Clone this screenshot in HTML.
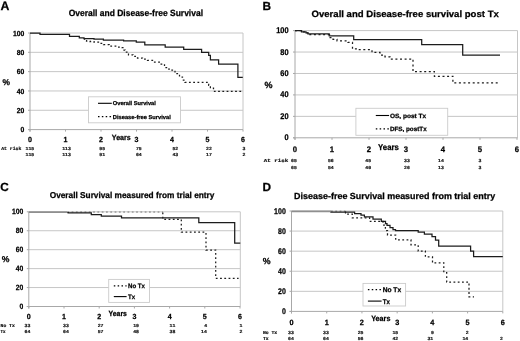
<!DOCTYPE html>
<html><head><meta charset="utf-8"><style>
html,body{margin:0;padding:0;background:#fff;width:520px;height:341px;overflow:hidden}
svg{display:block;will-change:transform;text-rendering:geometricPrecision}
</style></head><body>
<svg width="520" height="341" viewBox="0 0 520 341">
<rect width="520" height="341" fill="#fff"/>
<text x="0.6" y="9.8" font-family="&quot;Liberation Sans&quot;, sans-serif" font-size="12.3" font-weight="bold" fill="#000" stroke="#000" stroke-width="0.25">A</text>
<text x="68.7" y="16.4" font-family="&quot;Liberation Sans&quot;, sans-serif" font-size="9.0" font-weight="bold" textLength="134.3" lengthAdjust="spacingAndGlyphs" fill="#000" stroke="#000" stroke-width="0.25">Overall and Disease-free Survival</text>
<line x1="30" y1="33.0" x2="243" y2="33.0" stroke="#c6c6c6" stroke-width="1"/>
<line x1="30" y1="52.32" x2="243" y2="52.32" stroke="#c6c6c6" stroke-width="1"/>
<line x1="30" y1="71.64" x2="243" y2="71.64" stroke="#c6c6c6" stroke-width="1"/>
<line x1="30" y1="90.96000000000001" x2="243" y2="90.96000000000001" stroke="#c6c6c6" stroke-width="1"/>
<line x1="30" y1="110.28" x2="243" y2="110.28" stroke="#c6c6c6" stroke-width="1"/>
<line x1="243" y1="33" x2="243" y2="129.6" stroke="#c6c6c6" stroke-width="1"/>
<line x1="30" y1="33" x2="30" y2="131.6" stroke="#a8a8a8" stroke-width="1"/>
<line x1="28" y1="129.6" x2="243" y2="129.6" stroke="#a8a8a8" stroke-width="1"/>
<line x1="28" y1="33.0" x2="30" y2="33.0" stroke="#a8a8a8" stroke-width="1"/>
<line x1="28" y1="52.32" x2="30" y2="52.32" stroke="#a8a8a8" stroke-width="1"/>
<line x1="28" y1="71.64" x2="30" y2="71.64" stroke="#a8a8a8" stroke-width="1"/>
<line x1="28" y1="90.96000000000001" x2="30" y2="90.96000000000001" stroke="#a8a8a8" stroke-width="1"/>
<line x1="28" y1="110.28" x2="30" y2="110.28" stroke="#a8a8a8" stroke-width="1"/>
<line x1="28" y1="129.6" x2="30" y2="129.6" stroke="#a8a8a8" stroke-width="1"/>
<line x1="30.0" y1="129.6" x2="30.0" y2="131.6" stroke="#a8a8a8" stroke-width="1"/>
<line x1="65.5" y1="129.6" x2="65.5" y2="131.6" stroke="#a8a8a8" stroke-width="1"/>
<line x1="101.0" y1="129.6" x2="101.0" y2="131.6" stroke="#a8a8a8" stroke-width="1"/>
<line x1="136.5" y1="129.6" x2="136.5" y2="131.6" stroke="#a8a8a8" stroke-width="1"/>
<line x1="172.0" y1="129.6" x2="172.0" y2="131.6" stroke="#a8a8a8" stroke-width="1"/>
<line x1="207.5" y1="129.6" x2="207.5" y2="131.6" stroke="#a8a8a8" stroke-width="1"/>
<line x1="243.0" y1="129.6" x2="243.0" y2="131.6" stroke="#a8a8a8" stroke-width="1"/>
<text x="24.3" y="35.6" font-family="&quot;Liberation Sans&quot;, sans-serif" font-size="7.3" font-weight="bold" text-anchor="end" textLength="11.34" lengthAdjust="spacingAndGlyphs" fill="#000" stroke="#000" stroke-width="0.25">100</text>
<text x="24.3" y="54.9" font-family="&quot;Liberation Sans&quot;, sans-serif" font-size="7.3" font-weight="bold" text-anchor="end" textLength="7.56" lengthAdjust="spacingAndGlyphs" fill="#000" stroke="#000" stroke-width="0.25">80</text>
<text x="24.3" y="74.2" font-family="&quot;Liberation Sans&quot;, sans-serif" font-size="7.3" font-weight="bold" text-anchor="end" textLength="7.56" lengthAdjust="spacingAndGlyphs" fill="#000" stroke="#000" stroke-width="0.25">60</text>
<text x="24.3" y="93.6" font-family="&quot;Liberation Sans&quot;, sans-serif" font-size="7.3" font-weight="bold" text-anchor="end" textLength="7.56" lengthAdjust="spacingAndGlyphs" fill="#000" stroke="#000" stroke-width="0.25">40</text>
<text x="24.3" y="112.9" font-family="&quot;Liberation Sans&quot;, sans-serif" font-size="7.3" font-weight="bold" text-anchor="end" textLength="7.56" lengthAdjust="spacingAndGlyphs" fill="#000" stroke="#000" stroke-width="0.25">20</text>
<text x="24.3" y="132.2" font-family="&quot;Liberation Sans&quot;, sans-serif" font-size="7.3" font-weight="bold" text-anchor="end" textLength="3.78" lengthAdjust="spacingAndGlyphs" fill="#000" stroke="#000" stroke-width="0.25">0</text>
<text x="30.0" y="141.9" font-family="&quot;Liberation Sans&quot;, sans-serif" font-size="7.3999999999999995" font-weight="bold" text-anchor="middle" textLength="3.95" lengthAdjust="spacingAndGlyphs" fill="#000" stroke="#000" stroke-width="0.25">0</text>
<text x="65.5" y="141.9" font-family="&quot;Liberation Sans&quot;, sans-serif" font-size="7.3999999999999995" font-weight="bold" text-anchor="middle" textLength="3.95" lengthAdjust="spacingAndGlyphs" fill="#000" stroke="#000" stroke-width="0.25">1</text>
<text x="101.0" y="141.9" font-family="&quot;Liberation Sans&quot;, sans-serif" font-size="7.3999999999999995" font-weight="bold" text-anchor="middle" textLength="3.95" lengthAdjust="spacingAndGlyphs" fill="#000" stroke="#000" stroke-width="0.25">2</text>
<text x="136.5" y="141.9" font-family="&quot;Liberation Sans&quot;, sans-serif" font-size="7.3999999999999995" font-weight="bold" text-anchor="middle" textLength="3.95" lengthAdjust="spacingAndGlyphs" fill="#000" stroke="#000" stroke-width="0.25">3</text>
<text x="172.0" y="141.9" font-family="&quot;Liberation Sans&quot;, sans-serif" font-size="7.3999999999999995" font-weight="bold" text-anchor="middle" textLength="3.95" lengthAdjust="spacingAndGlyphs" fill="#000" stroke="#000" stroke-width="0.25">4</text>
<text x="207.5" y="141.9" font-family="&quot;Liberation Sans&quot;, sans-serif" font-size="7.3999999999999995" font-weight="bold" text-anchor="middle" textLength="3.95" lengthAdjust="spacingAndGlyphs" fill="#000" stroke="#000" stroke-width="0.25">5</text>
<text x="243.0" y="141.9" font-family="&quot;Liberation Sans&quot;, sans-serif" font-size="7.3999999999999995" font-weight="bold" text-anchor="middle" textLength="3.95" lengthAdjust="spacingAndGlyphs" fill="#000" stroke="#000" stroke-width="0.25">6</text>
<text x="2.6" y="84.5" font-family="&quot;Liberation Sans&quot;, sans-serif" font-size="8.4" font-weight="bold" fill="#000" stroke="#000" stroke-width="0.25">%</text>
<text x="111.8" y="139.8" font-family="&quot;Liberation Sans&quot;, sans-serif" font-size="7.6" font-weight="bold" textLength="19" lengthAdjust="spacingAndGlyphs" fill="#000" stroke="#000" stroke-width="0.25">Years</text>
<path d="M30.0,33.0 L40.0,33.0 L40.0,34.3 L69.5,34.3 L69.5,36.3 L79.3,36.3 L79.3,37.8 L84.0,37.8 L84.0,38.7 L94.0,38.7 L94.0,39.2 L103.4,39.2 L103.4,40.2 L123.6,40.2 L123.6,40.8 L136.3,40.8 L136.3,42.2 L144.8,42.2 L144.8,44.8 L165.2,44.8 L165.2,47.1 L183.7,47.1 L183.7,49.4 L201.6,49.4 L201.6,52.3 L208.7,52.3 L208.7,55.4 L210.4,55.4 L210.4,59.9 L218.6,59.9 L218.6,64.2 L237.9,64.2 L237.9,77.4 L242.8,77.4" fill="none" stroke="#1c1c1c" stroke-width="1.25"/>
<path d="M84.0,38.5 L84.5,38.5 L84.5,40.7 L85.0,40.7 L86.5,40.7 L86.5,41.2 L88.0,41.2 L90.0,41.2 L90.0,41.6 L92.0,41.6 L94.0,41.6 L94.0,42.2 L96.0,42.2 L98.5,42.2 L98.5,43.3 L101.0,43.3 L103.5,43.3 L103.5,44.6 L106.0,44.6 L109.3,44.6 L109.3,46.2 L112.6,46.2 L116.7,46.2 L116.7,47.0 L120.7,47.0 L122.1,47.0 L122.1,47.5 L123.5,47.5 L124.0,47.5 L124.0,50.0 L124.5,50.0 L125.2,50.0 L125.2,52.0 L126.0,52.0 L128.5,52.0 L128.5,54.8 L131.0,54.8 L133.0,54.8 L133.0,56.3 L135.0,56.3 L137.5,56.3 L137.5,58.0 L140.0,58.0 L142.5,58.0 L142.5,59.2 L145.0,59.2 L147.5,59.2 L147.5,60.4 L150.0,60.4 L153.5,60.4 L153.5,62.1 L157.0,62.1 L160.0,62.1 L160.0,64.0 L163.0,64.0 L164.5,64.0 L164.5,67.6 L166.0,67.6 L169.0,67.6 L169.0,70.2 L172.0,70.2 L175.0,70.2 L175.0,73.7 L178.0,73.7 L179.5,73.7 L179.5,77.0 L181.0,77.0 L182.5,77.0 L182.5,80.0 L184.0,80.0 L185.0,80.0 L185.0,82.3 L186.0,82.3 L208.7,82.3 L208.7,85.4 L210.4,85.4 L210.4,88.2 L213.5,88.2 L213.5,91.4 L242.8,91.4" fill="none" stroke="#1c1c1c" stroke-width="1.25" stroke-dasharray="1.8,2.45"/>
<rect x="88.5" y="96.8" width="92" height="26" fill="#fff" stroke="#cbcbcb" stroke-width="0.9"/>
<path d="M98,103.3 L111.8,103.3" stroke="#000" stroke-width="1.1"/>
<text x="112.8" y="105.4" font-family="&quot;Liberation Sans&quot;, sans-serif" font-size="5.7" font-weight="bold" textLength="43" lengthAdjust="spacingAndGlyphs" fill="#000" stroke="#000" stroke-width="0.25">Overall Survival</text>
<path d="M98,116.7 L111.8,116.7" stroke="#000" stroke-width="1.2" stroke-dasharray="1.5,2.35"/>
<text x="112.8" y="118.8" font-family="&quot;Liberation Sans&quot;, sans-serif" font-size="5.7" font-weight="bold" textLength="58" lengthAdjust="spacingAndGlyphs" fill="#000" stroke="#000" stroke-width="0.25">Disease-free Survival</text>
<text x="1.2" y="150.2" font-family="&quot;Liberation Mono&quot;, monospace" font-size="4.6" font-weight="bold" textLength="20.2" lengthAdjust="spacingAndGlyphs" fill="#111" stroke="#111" stroke-width="0.18">At risk</text>
<text x="25.5" y="150.2" font-family="&quot;Liberation Mono&quot;, monospace" font-size="4.6" font-weight="bold" textLength="8.7" lengthAdjust="spacingAndGlyphs" fill="#111" stroke="#111" stroke-width="0.18">115</text>
<text x="62.199999999999996" y="150.2" font-family="&quot;Liberation Mono&quot;, monospace" font-size="4.6" font-weight="bold" textLength="8.7" lengthAdjust="spacingAndGlyphs" fill="#111" stroke="#111" stroke-width="0.18">113</text>
<text x="99.3" y="150.2" font-family="&quot;Liberation Mono&quot;, monospace" font-size="4.6" font-weight="bold" textLength="5.8" lengthAdjust="spacingAndGlyphs" fill="#111" stroke="#111" stroke-width="0.18">95</text>
<text x="135.9" y="150.2" font-family="&quot;Liberation Mono&quot;, monospace" font-size="4.6" font-weight="bold" textLength="5.8" lengthAdjust="spacingAndGlyphs" fill="#111" stroke="#111" stroke-width="0.18">75</text>
<text x="172.4" y="150.2" font-family="&quot;Liberation Mono&quot;, monospace" font-size="4.6" font-weight="bold" textLength="5.8" lengthAdjust="spacingAndGlyphs" fill="#111" stroke="#111" stroke-width="0.18">52</text>
<text x="206.10000000000002" y="150.2" font-family="&quot;Liberation Mono&quot;, monospace" font-size="4.6" font-weight="bold" textLength="5.8" lengthAdjust="spacingAndGlyphs" fill="#111" stroke="#111" stroke-width="0.18">22</text>
<text x="242.60000000000002" y="150.2" font-family="&quot;Liberation Mono&quot;, monospace" font-size="4.6" font-weight="bold" textLength="2.9" lengthAdjust="spacingAndGlyphs" fill="#111" stroke="#111" stroke-width="0.18">3</text>
<text x="25.5" y="156.3" font-family="&quot;Liberation Mono&quot;, monospace" font-size="4.6" font-weight="bold" textLength="8.7" lengthAdjust="spacingAndGlyphs" fill="#111" stroke="#111" stroke-width="0.18">115</text>
<text x="62.199999999999996" y="156.3" font-family="&quot;Liberation Mono&quot;, monospace" font-size="4.6" font-weight="bold" textLength="8.7" lengthAdjust="spacingAndGlyphs" fill="#111" stroke="#111" stroke-width="0.18">113</text>
<text x="99.3" y="156.3" font-family="&quot;Liberation Mono&quot;, monospace" font-size="4.6" font-weight="bold" textLength="5.8" lengthAdjust="spacingAndGlyphs" fill="#111" stroke="#111" stroke-width="0.18">91</text>
<text x="135.9" y="156.3" font-family="&quot;Liberation Mono&quot;, monospace" font-size="4.6" font-weight="bold" textLength="5.8" lengthAdjust="spacingAndGlyphs" fill="#111" stroke="#111" stroke-width="0.18">64</text>
<text x="172.4" y="156.3" font-family="&quot;Liberation Mono&quot;, monospace" font-size="4.6" font-weight="bold" textLength="5.8" lengthAdjust="spacingAndGlyphs" fill="#111" stroke="#111" stroke-width="0.18">43</text>
<text x="206.10000000000002" y="156.3" font-family="&quot;Liberation Mono&quot;, monospace" font-size="4.6" font-weight="bold" textLength="5.8" lengthAdjust="spacingAndGlyphs" fill="#111" stroke="#111" stroke-width="0.18">17</text>
<text x="242.60000000000002" y="156.3" font-family="&quot;Liberation Mono&quot;, monospace" font-size="4.6" font-weight="bold" textLength="2.9" lengthAdjust="spacingAndGlyphs" fill="#111" stroke="#111" stroke-width="0.18">2</text>
<text x="262.6" y="9.8" font-family="&quot;Liberation Sans&quot;, sans-serif" font-size="11.8" font-weight="bold" fill="#000" stroke="#000" stroke-width="0.25">B</text>
<text x="311.5" y="16.9" font-family="&quot;Liberation Sans&quot;, sans-serif" font-size="9.2" font-weight="bold" textLength="187.3" lengthAdjust="spacingAndGlyphs" fill="#000" stroke="#000" stroke-width="0.25">Overall and Disease-free survival post Tx</text>
<line x1="295" y1="30.6" x2="517.5" y2="30.6" stroke="#c6c6c6" stroke-width="1"/>
<line x1="295" y1="52.040000000000006" x2="517.5" y2="52.040000000000006" stroke="#c6c6c6" stroke-width="1"/>
<line x1="295" y1="73.48000000000002" x2="517.5" y2="73.48000000000002" stroke="#c6c6c6" stroke-width="1"/>
<line x1="295" y1="94.92000000000002" x2="517.5" y2="94.92000000000002" stroke="#c6c6c6" stroke-width="1"/>
<line x1="295" y1="116.36000000000001" x2="517.5" y2="116.36000000000001" stroke="#c6c6c6" stroke-width="1"/>
<line x1="517.5" y1="30.6" x2="517.5" y2="137.8" stroke="#c6c6c6" stroke-width="1"/>
<line x1="295" y1="30.6" x2="295" y2="139.8" stroke="#a8a8a8" stroke-width="1"/>
<line x1="293" y1="137.8" x2="517.5" y2="137.8" stroke="#a8a8a8" stroke-width="1"/>
<line x1="293" y1="30.6" x2="295" y2="30.6" stroke="#a8a8a8" stroke-width="1"/>
<line x1="293" y1="52.040000000000006" x2="295" y2="52.040000000000006" stroke="#a8a8a8" stroke-width="1"/>
<line x1="293" y1="73.48000000000002" x2="295" y2="73.48000000000002" stroke="#a8a8a8" stroke-width="1"/>
<line x1="293" y1="94.92000000000002" x2="295" y2="94.92000000000002" stroke="#a8a8a8" stroke-width="1"/>
<line x1="293" y1="116.36000000000001" x2="295" y2="116.36000000000001" stroke="#a8a8a8" stroke-width="1"/>
<line x1="293" y1="137.8" x2="295" y2="137.8" stroke="#a8a8a8" stroke-width="1"/>
<line x1="295.0" y1="137.8" x2="295.0" y2="139.8" stroke="#a8a8a8" stroke-width="1"/>
<line x1="332.0" y1="137.8" x2="332.0" y2="139.8" stroke="#a8a8a8" stroke-width="1"/>
<line x1="369.0" y1="137.8" x2="369.0" y2="139.8" stroke="#a8a8a8" stroke-width="1"/>
<line x1="406.0" y1="137.8" x2="406.0" y2="139.8" stroke="#a8a8a8" stroke-width="1"/>
<line x1="443.0" y1="137.8" x2="443.0" y2="139.8" stroke="#a8a8a8" stroke-width="1"/>
<line x1="480.0" y1="137.8" x2="480.0" y2="139.8" stroke="#a8a8a8" stroke-width="1"/>
<line x1="517.0" y1="137.8" x2="517.0" y2="139.8" stroke="#a8a8a8" stroke-width="1"/>
<text x="288.6" y="33.1" font-family="&quot;Liberation Sans&quot;, sans-serif" font-size="8.3" font-weight="bold" text-anchor="end" textLength="12.34" lengthAdjust="spacingAndGlyphs" fill="#000" stroke="#000" stroke-width="0.25">100</text>
<text x="288.6" y="54.5" font-family="&quot;Liberation Sans&quot;, sans-serif" font-size="8.3" font-weight="bold" text-anchor="end" textLength="8.23" lengthAdjust="spacingAndGlyphs" fill="#000" stroke="#000" stroke-width="0.25">80</text>
<text x="288.6" y="76.0" font-family="&quot;Liberation Sans&quot;, sans-serif" font-size="8.3" font-weight="bold" text-anchor="end" textLength="8.23" lengthAdjust="spacingAndGlyphs" fill="#000" stroke="#000" stroke-width="0.25">60</text>
<text x="288.6" y="97.4" font-family="&quot;Liberation Sans&quot;, sans-serif" font-size="8.3" font-weight="bold" text-anchor="end" textLength="8.23" lengthAdjust="spacingAndGlyphs" fill="#000" stroke="#000" stroke-width="0.25">40</text>
<text x="288.6" y="118.9" font-family="&quot;Liberation Sans&quot;, sans-serif" font-size="8.3" font-weight="bold" text-anchor="end" textLength="8.23" lengthAdjust="spacingAndGlyphs" fill="#000" stroke="#000" stroke-width="0.25">20</text>
<text x="288.6" y="140.3" font-family="&quot;Liberation Sans&quot;, sans-serif" font-size="8.3" font-weight="bold" text-anchor="end" textLength="4.11" lengthAdjust="spacingAndGlyphs" fill="#000" stroke="#000" stroke-width="0.25">0</text>
<text x="295.0" y="151.9" font-family="&quot;Liberation Sans&quot;, sans-serif" font-size="8.0" font-weight="bold" text-anchor="middle" textLength="4.28" lengthAdjust="spacingAndGlyphs" fill="#000" stroke="#000" stroke-width="0.25">0</text>
<text x="332.0" y="151.9" font-family="&quot;Liberation Sans&quot;, sans-serif" font-size="8.0" font-weight="bold" text-anchor="middle" textLength="4.28" lengthAdjust="spacingAndGlyphs" fill="#000" stroke="#000" stroke-width="0.25">1</text>
<text x="369.0" y="151.9" font-family="&quot;Liberation Sans&quot;, sans-serif" font-size="8.0" font-weight="bold" text-anchor="middle" textLength="4.28" lengthAdjust="spacingAndGlyphs" fill="#000" stroke="#000" stroke-width="0.25">2</text>
<text x="406.0" y="151.9" font-family="&quot;Liberation Sans&quot;, sans-serif" font-size="8.0" font-weight="bold" text-anchor="middle" textLength="4.28" lengthAdjust="spacingAndGlyphs" fill="#000" stroke="#000" stroke-width="0.25">3</text>
<text x="443.0" y="151.9" font-family="&quot;Liberation Sans&quot;, sans-serif" font-size="8.0" font-weight="bold" text-anchor="middle" textLength="4.28" lengthAdjust="spacingAndGlyphs" fill="#000" stroke="#000" stroke-width="0.25">4</text>
<text x="480.0" y="151.9" font-family="&quot;Liberation Sans&quot;, sans-serif" font-size="8.0" font-weight="bold" text-anchor="middle" textLength="4.28" lengthAdjust="spacingAndGlyphs" fill="#000" stroke="#000" stroke-width="0.25">5</text>
<text x="517.0" y="151.9" font-family="&quot;Liberation Sans&quot;, sans-serif" font-size="8.0" font-weight="bold" text-anchor="middle" textLength="4.28" lengthAdjust="spacingAndGlyphs" fill="#000" stroke="#000" stroke-width="0.25">6</text>
<text x="264.6" y="87.6" font-family="&quot;Liberation Sans&quot;, sans-serif" font-size="9" font-weight="bold" fill="#000" stroke="#000" stroke-width="0.25">%</text>
<text x="378.1" y="149.9" font-family="&quot;Liberation Sans&quot;, sans-serif" font-size="8.4" font-weight="bold" textLength="20.7" lengthAdjust="spacingAndGlyphs" fill="#000" stroke="#000" stroke-width="0.25">Years</text>
<path d="M295.0,30.6 L301.5,30.6 L301.5,31.8 L306.0,31.8 L306.0,32.9 L307.9,32.9 L307.9,33.9 L329.2,33.9 L329.2,35.8 L353.7,35.8 L353.7,39.5 L421.7,39.5 L421.7,44.7 L462.7,44.7 L462.7,55.1 L500.0,55.1" fill="none" stroke="#1c1c1c" stroke-width="1.25"/>
<path d="M295.0,30.6 L301.5,30.6 L301.5,31.8 L306.0,31.8 L306.0,32.9 L307.9,32.9 L307.9,34.7 L329.5,34.7 L329.5,37.5 L333.0,37.5 L333.0,39.3 L337.0,39.3 L337.0,40.8 L348.0,40.8 L348.0,42.4 L352.5,42.4 L352.5,48.9 L357.0,48.9 L357.0,49.7 L372.0,49.7 L372.0,52.4 L380.0,52.4 L380.0,55.0 L385.0,55.0 L385.0,56.8 L390.0,56.8 L390.0,59.0 L413.0,59.0 L413.0,71.6 L434.4,71.6 L434.4,76.3 L452.9,76.3 L452.9,82.9 L500.0,82.9" fill="none" stroke="#1c1c1c" stroke-width="1.25" stroke-dasharray="2,2.6"/>
<rect x="355.9" y="108.3" width="91.8" height="27" fill="#fff" stroke="#cbcbcb" stroke-width="0.9"/>
<path d="M375.8,115.5 L389.1,115.5" stroke="#000" stroke-width="1.1"/>
<text x="389.9" y="117.7" font-family="&quot;Liberation Sans&quot;, sans-serif" font-size="6.2" font-weight="bold" textLength="36.3" lengthAdjust="spacingAndGlyphs" fill="#000" stroke="#000" stroke-width="0.25">OS, post Tx</text>
<path d="M375.8,128.8 L389.1,128.8" stroke="#000" stroke-width="1.2" stroke-dasharray="1.5,2.35"/>
<text x="389.9" y="131.0" font-family="&quot;Liberation Sans&quot;, sans-serif" font-size="6.2" font-weight="bold" textLength="36.8" lengthAdjust="spacingAndGlyphs" fill="#000" stroke="#000" stroke-width="0.25">DFS, postTx</text>
<text x="263.8" y="162.1" font-family="&quot;Liberation Mono&quot;, monospace" font-size="4.6" font-weight="bold" textLength="24.6" lengthAdjust="spacingAndGlyphs" fill="#111" stroke="#111" stroke-width="0.18">At risk</text>
<text x="291.0" y="162.1" font-family="&quot;Liberation Mono&quot;, monospace" font-size="4.6" font-weight="bold" textLength="5.8" lengthAdjust="spacingAndGlyphs" fill="#111" stroke="#111" stroke-width="0.18">65</text>
<text x="327.90000000000003" y="162.1" font-family="&quot;Liberation Mono&quot;, monospace" font-size="4.6" font-weight="bold" textLength="5.8" lengthAdjust="spacingAndGlyphs" fill="#111" stroke="#111" stroke-width="0.18">56</text>
<text x="365.3" y="162.1" font-family="&quot;Liberation Mono&quot;, monospace" font-size="4.6" font-weight="bold" textLength="5.8" lengthAdjust="spacingAndGlyphs" fill="#111" stroke="#111" stroke-width="0.18">45</text>
<text x="404.1" y="162.1" font-family="&quot;Liberation Mono&quot;, monospace" font-size="4.6" font-weight="bold" textLength="5.8" lengthAdjust="spacingAndGlyphs" fill="#111" stroke="#111" stroke-width="0.18">33</text>
<text x="438.0" y="162.1" font-family="&quot;Liberation Mono&quot;, monospace" font-size="4.6" font-weight="bold" textLength="5.8" lengthAdjust="spacingAndGlyphs" fill="#111" stroke="#111" stroke-width="0.18">14</text>
<text x="478.40000000000003" y="162.1" font-family="&quot;Liberation Mono&quot;, monospace" font-size="4.6" font-weight="bold" textLength="2.9" lengthAdjust="spacingAndGlyphs" fill="#111" stroke="#111" stroke-width="0.18">3</text>
<text x="291.0" y="169.0" font-family="&quot;Liberation Mono&quot;, monospace" font-size="4.6" font-weight="bold" textLength="5.8" lengthAdjust="spacingAndGlyphs" fill="#111" stroke="#111" stroke-width="0.18">65</text>
<text x="327.90000000000003" y="169.0" font-family="&quot;Liberation Mono&quot;, monospace" font-size="4.6" font-weight="bold" textLength="5.8" lengthAdjust="spacingAndGlyphs" fill="#111" stroke="#111" stroke-width="0.18">54</text>
<text x="365.3" y="169.0" font-family="&quot;Liberation Mono&quot;, monospace" font-size="4.6" font-weight="bold" textLength="5.8" lengthAdjust="spacingAndGlyphs" fill="#111" stroke="#111" stroke-width="0.18">40</text>
<text x="404.1" y="169.0" font-family="&quot;Liberation Mono&quot;, monospace" font-size="4.6" font-weight="bold" textLength="5.8" lengthAdjust="spacingAndGlyphs" fill="#111" stroke="#111" stroke-width="0.18">26</text>
<text x="438.0" y="169.0" font-family="&quot;Liberation Mono&quot;, monospace" font-size="4.6" font-weight="bold" textLength="5.8" lengthAdjust="spacingAndGlyphs" fill="#111" stroke="#111" stroke-width="0.18">13</text>
<text x="478.40000000000003" y="169.0" font-family="&quot;Liberation Mono&quot;, monospace" font-size="4.6" font-weight="bold" textLength="2.9" lengthAdjust="spacingAndGlyphs" fill="#111" stroke="#111" stroke-width="0.18">3</text>
<text x="0.2" y="191.1" font-family="&quot;Liberation Sans&quot;, sans-serif" font-size="11.8" font-weight="bold" fill="#000" stroke="#000" stroke-width="0.25">C</text>
<text x="49.7" y="198.4" font-family="&quot;Liberation Sans&quot;, sans-serif" font-size="8.6" font-weight="bold" textLength="164.7" lengthAdjust="spacingAndGlyphs" fill="#000" stroke="#000" stroke-width="0.25">Overall Survival measured from trial entry</text>
<line x1="28.8" y1="211.8" x2="240.3" y2="211.8" stroke="#c6c6c6" stroke-width="1"/>
<line x1="28.8" y1="230.74" x2="240.3" y2="230.74" stroke="#c6c6c6" stroke-width="1"/>
<line x1="28.8" y1="249.68" x2="240.3" y2="249.68" stroke="#c6c6c6" stroke-width="1"/>
<line x1="28.8" y1="268.62" x2="240.3" y2="268.62" stroke="#c6c6c6" stroke-width="1"/>
<line x1="28.8" y1="287.56" x2="240.3" y2="287.56" stroke="#c6c6c6" stroke-width="1"/>
<line x1="240.3" y1="211.8" x2="240.3" y2="306.5" stroke="#c6c6c6" stroke-width="1"/>
<line x1="28.8" y1="211.8" x2="28.8" y2="308.5" stroke="#a8a8a8" stroke-width="1"/>
<line x1="26.8" y1="306.5" x2="240.3" y2="306.5" stroke="#a8a8a8" stroke-width="1"/>
<line x1="26.8" y1="211.8" x2="28.8" y2="211.8" stroke="#a8a8a8" stroke-width="1"/>
<line x1="26.8" y1="230.74" x2="28.8" y2="230.74" stroke="#a8a8a8" stroke-width="1"/>
<line x1="26.8" y1="249.68" x2="28.8" y2="249.68" stroke="#a8a8a8" stroke-width="1"/>
<line x1="26.8" y1="268.62" x2="28.8" y2="268.62" stroke="#a8a8a8" stroke-width="1"/>
<line x1="26.8" y1="287.56" x2="28.8" y2="287.56" stroke="#a8a8a8" stroke-width="1"/>
<line x1="26.8" y1="306.5" x2="28.8" y2="306.5" stroke="#a8a8a8" stroke-width="1"/>
<line x1="28.8" y1="306.5" x2="28.8" y2="308.5" stroke="#a8a8a8" stroke-width="1"/>
<line x1="64.0" y1="306.5" x2="64.0" y2="308.5" stroke="#a8a8a8" stroke-width="1"/>
<line x1="99.2" y1="306.5" x2="99.2" y2="308.5" stroke="#a8a8a8" stroke-width="1"/>
<line x1="134.4" y1="306.5" x2="134.4" y2="308.5" stroke="#a8a8a8" stroke-width="1"/>
<line x1="169.60000000000002" y1="306.5" x2="169.60000000000002" y2="308.5" stroke="#a8a8a8" stroke-width="1"/>
<line x1="204.8" y1="306.5" x2="204.8" y2="308.5" stroke="#a8a8a8" stroke-width="1"/>
<line x1="240.00000000000003" y1="306.5" x2="240.00000000000003" y2="308.5" stroke="#a8a8a8" stroke-width="1"/>
<text x="23.4" y="214.3" font-family="&quot;Liberation Sans&quot;, sans-serif" font-size="7.7" font-weight="bold" text-anchor="end" textLength="11.34" lengthAdjust="spacingAndGlyphs" fill="#000" stroke="#000" stroke-width="0.25">100</text>
<text x="23.4" y="233.2" font-family="&quot;Liberation Sans&quot;, sans-serif" font-size="7.7" font-weight="bold" text-anchor="end" textLength="7.56" lengthAdjust="spacingAndGlyphs" fill="#000" stroke="#000" stroke-width="0.25">80</text>
<text x="23.4" y="252.2" font-family="&quot;Liberation Sans&quot;, sans-serif" font-size="7.7" font-weight="bold" text-anchor="end" textLength="7.56" lengthAdjust="spacingAndGlyphs" fill="#000" stroke="#000" stroke-width="0.25">60</text>
<text x="23.4" y="271.1" font-family="&quot;Liberation Sans&quot;, sans-serif" font-size="7.7" font-weight="bold" text-anchor="end" textLength="7.56" lengthAdjust="spacingAndGlyphs" fill="#000" stroke="#000" stroke-width="0.25">40</text>
<text x="23.4" y="290.1" font-family="&quot;Liberation Sans&quot;, sans-serif" font-size="7.7" font-weight="bold" text-anchor="end" textLength="7.56" lengthAdjust="spacingAndGlyphs" fill="#000" stroke="#000" stroke-width="0.25">20</text>
<text x="23.4" y="309.0" font-family="&quot;Liberation Sans&quot;, sans-serif" font-size="7.7" font-weight="bold" text-anchor="end" textLength="3.78" lengthAdjust="spacingAndGlyphs" fill="#000" stroke="#000" stroke-width="0.25">0</text>
<text x="28.8" y="319.2" font-family="&quot;Liberation Sans&quot;, sans-serif" font-size="7.3999999999999995" font-weight="bold" text-anchor="middle" textLength="3.95" lengthAdjust="spacingAndGlyphs" fill="#000" stroke="#000" stroke-width="0.25">0</text>
<text x="64.0" y="319.2" font-family="&quot;Liberation Sans&quot;, sans-serif" font-size="7.3999999999999995" font-weight="bold" text-anchor="middle" textLength="3.95" lengthAdjust="spacingAndGlyphs" fill="#000" stroke="#000" stroke-width="0.25">1</text>
<text x="99.2" y="319.2" font-family="&quot;Liberation Sans&quot;, sans-serif" font-size="7.3999999999999995" font-weight="bold" text-anchor="middle" textLength="3.95" lengthAdjust="spacingAndGlyphs" fill="#000" stroke="#000" stroke-width="0.25">2</text>
<text x="134.4" y="319.2" font-family="&quot;Liberation Sans&quot;, sans-serif" font-size="7.3999999999999995" font-weight="bold" text-anchor="middle" textLength="3.95" lengthAdjust="spacingAndGlyphs" fill="#000" stroke="#000" stroke-width="0.25">3</text>
<text x="169.6" y="319.2" font-family="&quot;Liberation Sans&quot;, sans-serif" font-size="7.3999999999999995" font-weight="bold" text-anchor="middle" textLength="3.95" lengthAdjust="spacingAndGlyphs" fill="#000" stroke="#000" stroke-width="0.25">4</text>
<text x="204.8" y="319.2" font-family="&quot;Liberation Sans&quot;, sans-serif" font-size="7.3999999999999995" font-weight="bold" text-anchor="middle" textLength="3.95" lengthAdjust="spacingAndGlyphs" fill="#000" stroke="#000" stroke-width="0.25">5</text>
<text x="240.0" y="319.2" font-family="&quot;Liberation Sans&quot;, sans-serif" font-size="7.3999999999999995" font-weight="bold" text-anchor="middle" textLength="3.95" lengthAdjust="spacingAndGlyphs" fill="#000" stroke="#000" stroke-width="0.25">6</text>
<text x="1.8" y="262" font-family="&quot;Liberation Sans&quot;, sans-serif" font-size="8.6" font-weight="bold" fill="#000" stroke="#000" stroke-width="0.25">%</text>
<text x="108.5" y="315.7" font-family="&quot;Liberation Sans&quot;, sans-serif" font-size="7.5" font-weight="bold" textLength="18.4" lengthAdjust="spacingAndGlyphs" fill="#000" stroke="#000" stroke-width="0.25">Years</text>
<line x1="28.8" y1="212.1" x2="67.3" y2="212.1" stroke="#8f8f8f" stroke-width="1.7"/>
<path d="M67.3,212.1 L162.8,212.1" stroke="#9a9a9a" stroke-width="1.5" stroke-dasharray="1.8,2.5"/>
<path d="M162.8,212.4 L162.8,212.4 L162.8,219.4 L181.3,219.4 L181.3,232.2 L206.0,232.2 L206.0,250.0 L215.7,250.0 L215.7,278.4 L238.6,278.4" fill="none" stroke="#1c1c1c" stroke-width="1.25" stroke-dasharray="1.8,2.45"/>
<path d="M67.3,212.6 L68.3,212.6 L68.3,212.9 L91.3,212.9 L91.3,214.5 L101.3,214.5 L101.3,216.0 L121.5,216.0 L121.5,217.8 L198.8,217.8 L198.8,222.5 L234.7,222.5 L234.7,243.0 L240.3,243.0" fill="none" stroke="#1c1c1c" stroke-width="1.25"/>
<rect x="108.7" y="279.4" width="40.8" height="23" fill="#fff" stroke="#cbcbcb" stroke-width="0.9"/>
<path d="M113.8,285.9 L126.6,285.9" stroke="#000" stroke-width="1.2" stroke-dasharray="1.5,2.35"/>
<text x="128" y="288.2" font-family="&quot;Liberation Sans&quot;, sans-serif" font-size="6.4" font-weight="bold" textLength="17" lengthAdjust="spacingAndGlyphs" fill="#000" stroke="#000" stroke-width="0.25">No Tx</text>
<path d="M113.8,296.6 L126.6,296.6" stroke="#000" stroke-width="1.1"/>
<text x="128" y="298.9" font-family="&quot;Liberation Sans&quot;, sans-serif" font-size="6.4" font-weight="bold" textLength="7.1" lengthAdjust="spacingAndGlyphs" fill="#000" stroke="#000" stroke-width="0.25">Tx</text>
<text x="0.6" y="326.6" font-family="&quot;Liberation Mono&quot;, monospace" font-size="4.6" font-weight="bold" textLength="14.2" lengthAdjust="spacingAndGlyphs" fill="#111" stroke="#111" stroke-width="0.18">No Tx</text>
<text x="0.6" y="332.7" font-family="&quot;Liberation Mono&quot;, monospace" font-size="4.6" font-weight="bold" textLength="5" lengthAdjust="spacingAndGlyphs" fill="#111" stroke="#111" stroke-width="0.18">Tx</text>
<text x="24.5" y="326.6" font-family="&quot;Liberation Mono&quot;, monospace" font-size="4.6" font-weight="bold" textLength="5.8" lengthAdjust="spacingAndGlyphs" fill="#111" stroke="#111" stroke-width="0.18">33</text>
<text x="63.099999999999994" y="326.6" font-family="&quot;Liberation Mono&quot;, monospace" font-size="4.6" font-weight="bold" textLength="5.8" lengthAdjust="spacingAndGlyphs" fill="#111" stroke="#111" stroke-width="0.18">33</text>
<text x="97.7" y="326.6" font-family="&quot;Liberation Mono&quot;, monospace" font-size="4.6" font-weight="bold" textLength="5.8" lengthAdjust="spacingAndGlyphs" fill="#111" stroke="#111" stroke-width="0.18">27</text>
<text x="133.20000000000002" y="326.6" font-family="&quot;Liberation Mono&quot;, monospace" font-size="4.6" font-weight="bold" textLength="5.8" lengthAdjust="spacingAndGlyphs" fill="#111" stroke="#111" stroke-width="0.18">19</text>
<text x="169.60000000000002" y="326.6" font-family="&quot;Liberation Mono&quot;, monospace" font-size="4.6" font-weight="bold" textLength="5.8" lengthAdjust="spacingAndGlyphs" fill="#111" stroke="#111" stroke-width="0.18">11</text>
<text x="204.3" y="326.6" font-family="&quot;Liberation Mono&quot;, monospace" font-size="4.6" font-weight="bold" textLength="2.9" lengthAdjust="spacingAndGlyphs" fill="#111" stroke="#111" stroke-width="0.18">4</text>
<text x="239.60000000000002" y="326.6" font-family="&quot;Liberation Mono&quot;, monospace" font-size="4.6" font-weight="bold" textLength="2.9" lengthAdjust="spacingAndGlyphs" fill="#111" stroke="#111" stroke-width="0.18">1</text>
<text x="24.5" y="332.7" font-family="&quot;Liberation Mono&quot;, monospace" font-size="4.6" font-weight="bold" textLength="5.8" lengthAdjust="spacingAndGlyphs" fill="#111" stroke="#111" stroke-width="0.18">64</text>
<text x="63.099999999999994" y="332.7" font-family="&quot;Liberation Mono&quot;, monospace" font-size="4.6" font-weight="bold" textLength="5.8" lengthAdjust="spacingAndGlyphs" fill="#111" stroke="#111" stroke-width="0.18">64</text>
<text x="97.7" y="332.7" font-family="&quot;Liberation Mono&quot;, monospace" font-size="4.6" font-weight="bold" textLength="5.8" lengthAdjust="spacingAndGlyphs" fill="#111" stroke="#111" stroke-width="0.18">57</text>
<text x="133.20000000000002" y="332.7" font-family="&quot;Liberation Mono&quot;, monospace" font-size="4.6" font-weight="bold" textLength="5.8" lengthAdjust="spacingAndGlyphs" fill="#111" stroke="#111" stroke-width="0.18">48</text>
<text x="169.60000000000002" y="332.7" font-family="&quot;Liberation Mono&quot;, monospace" font-size="4.6" font-weight="bold" textLength="5.8" lengthAdjust="spacingAndGlyphs" fill="#111" stroke="#111" stroke-width="0.18">38</text>
<text x="201.10000000000002" y="332.7" font-family="&quot;Liberation Mono&quot;, monospace" font-size="4.6" font-weight="bold" textLength="5.8" lengthAdjust="spacingAndGlyphs" fill="#111" stroke="#111" stroke-width="0.18">14</text>
<text x="239.60000000000002" y="332.7" font-family="&quot;Liberation Mono&quot;, monospace" font-size="4.6" font-weight="bold" textLength="2.9" lengthAdjust="spacingAndGlyphs" fill="#111" stroke="#111" stroke-width="0.18">2</text>
<text x="262.6" y="191.1" font-family="&quot;Liberation Sans&quot;, sans-serif" font-size="11.8" font-weight="bold" fill="#000" stroke="#000" stroke-width="0.25">D</text>
<text x="294.1" y="198.6" font-family="&quot;Liberation Sans&quot;, sans-serif" font-size="8.9" font-weight="bold" textLength="201.1" lengthAdjust="spacingAndGlyphs" fill="#000" stroke="#000" stroke-width="0.25">Disease-free Survival measured from trial entry</text>
<line x1="291.5" y1="211.0" x2="502.8" y2="211.0" stroke="#c6c6c6" stroke-width="1"/>
<line x1="291.5" y1="231.07999999999998" x2="502.8" y2="231.07999999999998" stroke="#c6c6c6" stroke-width="1"/>
<line x1="291.5" y1="251.16" x2="502.8" y2="251.16" stroke="#c6c6c6" stroke-width="1"/>
<line x1="291.5" y1="271.24" x2="502.8" y2="271.24" stroke="#c6c6c6" stroke-width="1"/>
<line x1="291.5" y1="291.32" x2="502.8" y2="291.32" stroke="#c6c6c6" stroke-width="1"/>
<line x1="502.8" y1="211" x2="502.8" y2="311.4" stroke="#c6c6c6" stroke-width="1"/>
<line x1="291.5" y1="211" x2="291.5" y2="313.4" stroke="#a8a8a8" stroke-width="1"/>
<line x1="289.5" y1="311.4" x2="502.8" y2="311.4" stroke="#a8a8a8" stroke-width="1"/>
<line x1="289.5" y1="211.0" x2="291.5" y2="211.0" stroke="#a8a8a8" stroke-width="1"/>
<line x1="289.5" y1="231.07999999999998" x2="291.5" y2="231.07999999999998" stroke="#a8a8a8" stroke-width="1"/>
<line x1="289.5" y1="251.16" x2="291.5" y2="251.16" stroke="#a8a8a8" stroke-width="1"/>
<line x1="289.5" y1="271.24" x2="291.5" y2="271.24" stroke="#a8a8a8" stroke-width="1"/>
<line x1="289.5" y1="291.32" x2="291.5" y2="291.32" stroke="#a8a8a8" stroke-width="1"/>
<line x1="289.5" y1="311.4" x2="291.5" y2="311.4" stroke="#a8a8a8" stroke-width="1"/>
<line x1="291.5" y1="311.4" x2="291.5" y2="313.4" stroke="#a8a8a8" stroke-width="1"/>
<line x1="326.72" y1="311.4" x2="326.72" y2="313.4" stroke="#a8a8a8" stroke-width="1"/>
<line x1="361.94" y1="311.4" x2="361.94" y2="313.4" stroke="#a8a8a8" stroke-width="1"/>
<line x1="397.15999999999997" y1="311.4" x2="397.15999999999997" y2="313.4" stroke="#a8a8a8" stroke-width="1"/>
<line x1="432.38" y1="311.4" x2="432.38" y2="313.4" stroke="#a8a8a8" stroke-width="1"/>
<line x1="467.6" y1="311.4" x2="467.6" y2="313.4" stroke="#a8a8a8" stroke-width="1"/>
<line x1="502.82" y1="311.4" x2="502.82" y2="313.4" stroke="#a8a8a8" stroke-width="1"/>
<text x="285.8" y="213.6" font-family="&quot;Liberation Sans&quot;, sans-serif" font-size="8.2" font-weight="bold" text-anchor="end" textLength="11.68" lengthAdjust="spacingAndGlyphs" fill="#000" stroke="#000" stroke-width="0.25">100</text>
<text x="285.8" y="233.7" font-family="&quot;Liberation Sans&quot;, sans-serif" font-size="8.2" font-weight="bold" text-anchor="end" textLength="7.78" lengthAdjust="spacingAndGlyphs" fill="#000" stroke="#000" stroke-width="0.25">80</text>
<text x="285.8" y="253.8" font-family="&quot;Liberation Sans&quot;, sans-serif" font-size="8.2" font-weight="bold" text-anchor="end" textLength="7.78" lengthAdjust="spacingAndGlyphs" fill="#000" stroke="#000" stroke-width="0.25">60</text>
<text x="285.8" y="273.8" font-family="&quot;Liberation Sans&quot;, sans-serif" font-size="8.2" font-weight="bold" text-anchor="end" textLength="7.78" lengthAdjust="spacingAndGlyphs" fill="#000" stroke="#000" stroke-width="0.25">40</text>
<text x="285.8" y="293.9" font-family="&quot;Liberation Sans&quot;, sans-serif" font-size="8.2" font-weight="bold" text-anchor="end" textLength="7.78" lengthAdjust="spacingAndGlyphs" fill="#000" stroke="#000" stroke-width="0.25">20</text>
<text x="285.8" y="314.0" font-family="&quot;Liberation Sans&quot;, sans-serif" font-size="8.2" font-weight="bold" text-anchor="end" textLength="3.89" lengthAdjust="spacingAndGlyphs" fill="#000" stroke="#000" stroke-width="0.25">0</text>
<text x="291.5" y="325.1" font-family="&quot;Liberation Sans&quot;, sans-serif" font-size="7.6" font-weight="bold" text-anchor="middle" textLength="4.06" lengthAdjust="spacingAndGlyphs" fill="#000" stroke="#000" stroke-width="0.25">0</text>
<text x="326.7" y="325.1" font-family="&quot;Liberation Sans&quot;, sans-serif" font-size="7.6" font-weight="bold" text-anchor="middle" textLength="4.06" lengthAdjust="spacingAndGlyphs" fill="#000" stroke="#000" stroke-width="0.25">1</text>
<text x="361.9" y="325.1" font-family="&quot;Liberation Sans&quot;, sans-serif" font-size="7.6" font-weight="bold" text-anchor="middle" textLength="4.06" lengthAdjust="spacingAndGlyphs" fill="#000" stroke="#000" stroke-width="0.25">2</text>
<text x="397.2" y="325.1" font-family="&quot;Liberation Sans&quot;, sans-serif" font-size="7.6" font-weight="bold" text-anchor="middle" textLength="4.06" lengthAdjust="spacingAndGlyphs" fill="#000" stroke="#000" stroke-width="0.25">3</text>
<text x="432.4" y="325.1" font-family="&quot;Liberation Sans&quot;, sans-serif" font-size="7.6" font-weight="bold" text-anchor="middle" textLength="4.06" lengthAdjust="spacingAndGlyphs" fill="#000" stroke="#000" stroke-width="0.25">4</text>
<text x="467.6" y="325.1" font-family="&quot;Liberation Sans&quot;, sans-serif" font-size="7.6" font-weight="bold" text-anchor="middle" textLength="4.06" lengthAdjust="spacingAndGlyphs" fill="#000" stroke="#000" stroke-width="0.25">5</text>
<text x="502.8" y="325.1" font-family="&quot;Liberation Sans&quot;, sans-serif" font-size="7.6" font-weight="bold" text-anchor="middle" textLength="4.06" lengthAdjust="spacingAndGlyphs" fill="#000" stroke="#000" stroke-width="0.25">6</text>
<text x="262.8" y="264.4" font-family="&quot;Liberation Sans&quot;, sans-serif" font-size="8.8" font-weight="bold" fill="#000" stroke="#000" stroke-width="0.25">%</text>
<text x="371.2" y="321.4" font-family="&quot;Liberation Sans&quot;, sans-serif" font-size="7.7" font-weight="bold" textLength="19.2" lengthAdjust="spacingAndGlyphs" fill="#000" stroke="#000" stroke-width="0.25">Years</text>
<line x1="291.5" y1="211.3" x2="331" y2="211.3" stroke="#8f8f8f" stroke-width="1.7"/>
<path d="M331,211.3 L345.5,211.3" stroke="#9a9a9a" stroke-width="1.5" stroke-dasharray="1.8,2.5"/>
<path d="M345.5,211.6 L345.5,211.6 L345.5,214.2 L352.3,214.2 L352.3,217.9 L369.6,217.9 L369.6,221.4 L383.0,221.4 L383.0,225.0 L385.4,225.0 L385.4,230.5 L387.5,230.5 L387.5,235.0 L395.7,235.0 L395.7,239.8 L411.0,239.8 L411.0,244.9 L418.2,244.9 L418.2,251.0 L425.4,251.0 L425.4,256.9 L432.5,256.9 L432.5,262.9 L443.8,262.9 L443.8,272.6 L446.7,272.6 L446.7,282.1 L469.0,282.1 L469.0,296.8 L474.0,296.8" fill="none" stroke="#1c1c1c" stroke-width="1.25" stroke-dasharray="1.8,2.45"/>
<path d="M331.0,211.8 L331.0,211.8 L331.0,212.2 L354.6,212.2 L354.6,213.7 L361.0,213.7 L361.0,215.2 L364.4,215.2 L364.4,216.9 L373.0,216.9 L373.0,219.2 L381.3,219.2 L381.3,221.3 L385.5,221.3 L385.5,223.5 L387.0,223.5 L387.0,225.4 L390.0,225.4 L390.0,227.5 L393.0,227.5 L393.0,229.5 L395.5,229.5 L395.5,230.5 L418.2,230.5 L418.2,232.2 L424.4,232.2 L424.4,234.2 L432.0,234.2 L432.0,236.7 L435.5,236.7 L435.5,240.0 L438.7,240.0 L438.7,246.2 L470.6,246.2 L470.6,251.2 L473.6,251.2 L473.6,256.6 L502.8,256.6" fill="none" stroke="#1c1c1c" stroke-width="1.25"/>
<rect x="363" y="283.4" width="42.6" height="22.6" fill="#fff" stroke="#cbcbcb" stroke-width="0.9"/>
<path d="M367.9,289.6 L381.6,289.6" stroke="#000" stroke-width="1.2" stroke-dasharray="1.5,2.35"/>
<text x="382.7" y="292.0" font-family="&quot;Liberation Sans&quot;, sans-serif" font-size="6.8" font-weight="bold" textLength="18.4" lengthAdjust="spacingAndGlyphs" fill="#000" stroke="#000" stroke-width="0.25">No Tx</text>
<path d="M367.9,301.1 L381.6,301.1" stroke="#000" stroke-width="1.1"/>
<text x="382.7" y="303.5" font-family="&quot;Liberation Sans&quot;, sans-serif" font-size="6.8" font-weight="bold" textLength="7.1" lengthAdjust="spacingAndGlyphs" fill="#000" stroke="#000" stroke-width="0.25">Tx</text>
<text x="263" y="333.7" font-family="&quot;Liberation Mono&quot;, monospace" font-size="4.6" font-weight="bold" textLength="14.2" lengthAdjust="spacingAndGlyphs" fill="#111" stroke="#111" stroke-width="0.18">No Tx</text>
<text x="263" y="339.7" font-family="&quot;Liberation Mono&quot;, monospace" font-size="4.6" font-weight="bold" textLength="5.6" lengthAdjust="spacingAndGlyphs" fill="#111" stroke="#111" stroke-width="0.18">Tx</text>
<text x="288.0" y="333.7" font-family="&quot;Liberation Mono&quot;, monospace" font-size="4.6" font-weight="bold" textLength="5.8" lengthAdjust="spacingAndGlyphs" fill="#111" stroke="#111" stroke-width="0.18">33</text>
<text x="323.1" y="333.7" font-family="&quot;Liberation Mono&quot;, monospace" font-size="4.6" font-weight="bold" textLength="5.8" lengthAdjust="spacingAndGlyphs" fill="#111" stroke="#111" stroke-width="0.18">33</text>
<text x="357.7" y="333.7" font-family="&quot;Liberation Mono&quot;, monospace" font-size="4.6" font-weight="bold" textLength="5.8" lengthAdjust="spacingAndGlyphs" fill="#111" stroke="#111" stroke-width="0.18">25</text>
<text x="392.40000000000003" y="333.7" font-family="&quot;Liberation Mono&quot;, monospace" font-size="4.6" font-weight="bold" textLength="5.8" lengthAdjust="spacingAndGlyphs" fill="#111" stroke="#111" stroke-width="0.18">15</text>
<text x="430.90000000000003" y="333.7" font-family="&quot;Liberation Mono&quot;, monospace" font-size="4.6" font-weight="bold" textLength="2.9" lengthAdjust="spacingAndGlyphs" fill="#111" stroke="#111" stroke-width="0.18">9</text>
<text x="465.7" y="333.7" font-family="&quot;Liberation Mono&quot;, monospace" font-size="4.6" font-weight="bold" textLength="2.9" lengthAdjust="spacingAndGlyphs" fill="#111" stroke="#111" stroke-width="0.18">2</text>
<text x="288.0" y="339.7" font-family="&quot;Liberation Mono&quot;, monospace" font-size="4.6" font-weight="bold" textLength="5.8" lengthAdjust="spacingAndGlyphs" fill="#111" stroke="#111" stroke-width="0.18">64</text>
<text x="323.1" y="339.7" font-family="&quot;Liberation Mono&quot;, monospace" font-size="4.6" font-weight="bold" textLength="5.8" lengthAdjust="spacingAndGlyphs" fill="#111" stroke="#111" stroke-width="0.18">64</text>
<text x="357.7" y="339.7" font-family="&quot;Liberation Mono&quot;, monospace" font-size="4.6" font-weight="bold" textLength="5.8" lengthAdjust="spacingAndGlyphs" fill="#111" stroke="#111" stroke-width="0.18">56</text>
<text x="392.40000000000003" y="339.7" font-family="&quot;Liberation Mono&quot;, monospace" font-size="4.6" font-weight="bold" textLength="5.8" lengthAdjust="spacingAndGlyphs" fill="#111" stroke="#111" stroke-width="0.18">42</text>
<text x="427.40000000000003" y="339.7" font-family="&quot;Liberation Mono&quot;, monospace" font-size="4.6" font-weight="bold" textLength="5.8" lengthAdjust="spacingAndGlyphs" fill="#111" stroke="#111" stroke-width="0.18">31</text>
<text x="462.40000000000003" y="339.7" font-family="&quot;Liberation Mono&quot;, monospace" font-size="4.6" font-weight="bold" textLength="5.8" lengthAdjust="spacingAndGlyphs" fill="#111" stroke="#111" stroke-width="0.18">14</text>
<text x="500.1" y="339.7" font-family="&quot;Liberation Mono&quot;, monospace" font-size="4.6" font-weight="bold" textLength="2.9" lengthAdjust="spacingAndGlyphs" fill="#111" stroke="#111" stroke-width="0.18">2</text>
</svg>
</body></html>
